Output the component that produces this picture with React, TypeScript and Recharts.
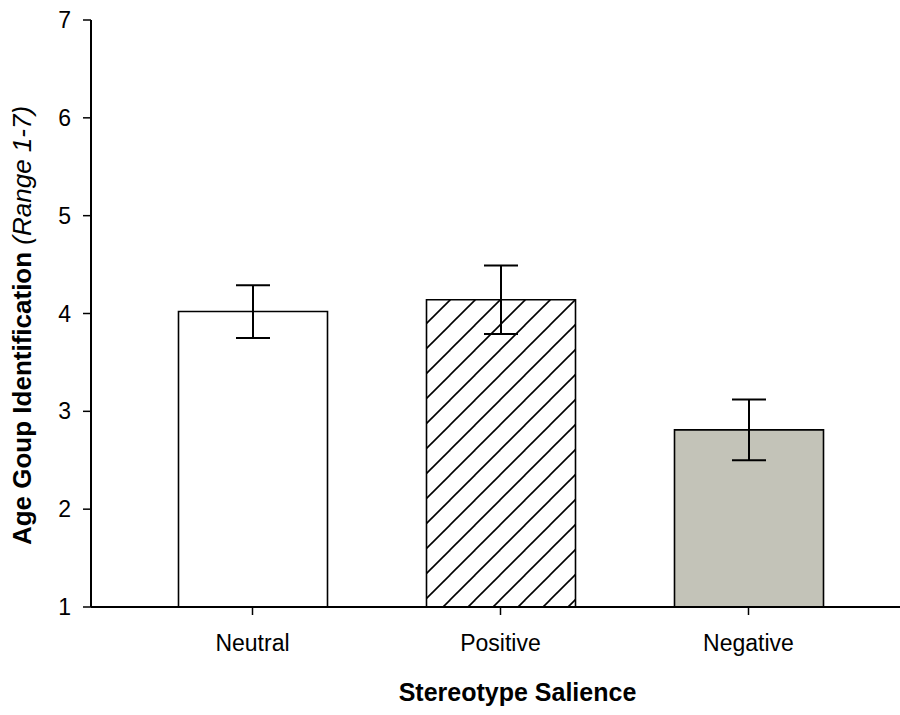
import React from 'react';
import { BarChart, Bar, XAxis, YAxis, ErrorBar, Cell } from 'recharts';

const categories = ['Neutral', 'Positive', 'Negative'];
const means = [4.02, 4.14, 2.81];
const errors = [0.27, 0.35, 0.31];
const yTicks = [1, 2, 3, 4, 5, 6, 7];
const fills = ['#ffffff', 'url(#hatch)', '#c3c3b8'];

const data = categories.map((c, i) => ({ name: c, value: means[i], err: errors[i] }));

const FONT = '"Liberation Sans", Arial, sans-serif';

const YLabel = (props: any) => {
  const vb = props.viewBox || {};
  const cy = vb.y + vb.height / 2 + 12;
  const cx = 22;
  return (
    <text
      x={cx}
      y={cy}
      transform={`rotate(-90, ${cx}, ${cy})`}
      textAnchor="middle"
      dominantBaseline="central"
      fontFamily={FONT}
      fontSize={26}
      fill="#000"
    >
      <tspan fontWeight="bold">Age Goup Identification </tspan>
      <tspan fontStyle="italic">(Range 1-7)</tspan>
    </text>
  );
};

export default function App() {
  return (
    <div style={{ position: 'absolute', left: 0, top: 0, width: 900, height: 715, background: '#fff' }}>
      <BarChart
        width={900}
        height={715}
        data={data}
        margin={{ top: 20, right: 0, bottom: 0, left: 0 }}
      >
        <defs>
          <pattern id="hatch" patternUnits="userSpaceOnUse" width={25} height={25}>
            <rect x={0} y={0} width={25} height={25} fill="#fff" />
            <line x1={0} y1={25} x2={25} y2={0} stroke="#000" strokeWidth={1.6} />
            <line x1={-5} y1={5} x2={5} y2={-5} stroke="#000" strokeWidth={1.6} />
            <line x1={20} y1={30} x2={30} y2={20} stroke="#000" strokeWidth={1.6} />
          </pattern>
        </defs>
        <XAxis
          dataKey="name"
          height={108}
          padding={{ left: 37.5, right: 27.5 }}
          axisLine={{ stroke: '#000', strokeWidth: 2 }}
          tickLine={{ stroke: '#000', strokeWidth: 1.5 }}
          tickSize={8}
          tickMargin={20}
          tick={{ fill: '#000', fontSize: 23, fontFamily: FONT }}
          label={{
            value: 'Stereotype Salience',
            position: 'insideBottom',
            offset: 14,
            dx: 22,
            fill: '#000',
            fontSize: 25,
            fontWeight: 'bold',
            fontFamily: FONT,
          }}
        />
        <YAxis
          width={91}
          domain={[1, 7]}
          ticks={yTicks}
          type="number"
          allowDataOverflow
          axisLine={{ stroke: '#000', strokeWidth: 2 }}
          tickLine={{ stroke: '#000', strokeWidth: 1.5 }}
          tickSize={8}
          tickMargin={12}
          tick={{ fill: '#000', fontSize: 23, fontFamily: FONT }}
          label={<YLabel />}
        />
        <Bar dataKey="value" barSize={149} stroke="#000" strokeWidth={1.6} isAnimationActive={false}>
          {data.map((d, i) => (
            <Cell key={d.name} fill={fills[i]} />
          ))}
          <ErrorBar dataKey="err" width={17} stroke="#000" strokeWidth={2} isAnimationActive={false} />
        </Bar>
      </BarChart>
    </div>
  );
}
